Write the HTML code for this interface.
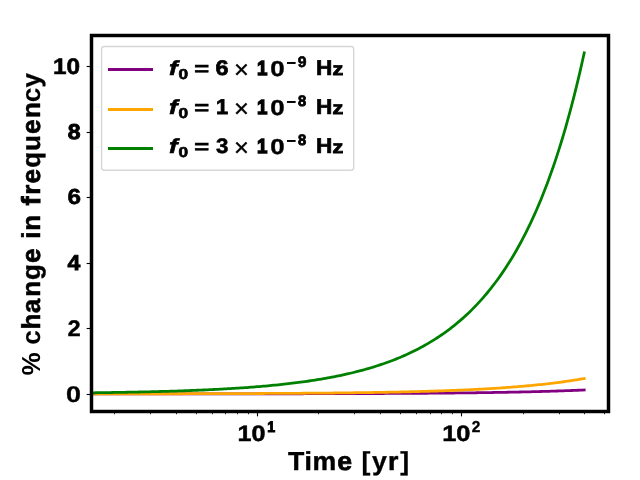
<!DOCTYPE html>
<html lang="en"><head><meta charset="utf-8"><title>% change in frequency vs time</title>
<style>
html,body{margin:0;padding:0;background:#fff;}
svg{display:block;will-change:transform;}
text{font-family:'Liberation Sans',sans-serif;fill:#000;text-rendering:geometricPrecision;}
</style></head>
<body>
<svg width="640" height="480" viewBox="0 0 640 480">
<rect width="640" height="480" fill="#fff"/>
<defs><clipPath id="ax"><rect x="91.5" y="35.5" width="517.0" height="376.0"/></clipPath></defs>
<!-- data curves: purple f0=6e-9, orange f0=1e-8, green f0=3e-8 (log x axis) -->
<g clip-path="url(#ax)">
<path d="M87.50,393.89 L89.57,393.89 L91.64,393.88 L93.71,393.88 L95.78,393.88 L97.85,393.88 L99.92,393.88 L101.99,393.88 L104.06,393.88 L106.13,393.88 L108.20,393.88 L110.27,393.88 L112.34,393.88 L114.41,393.88 L116.48,393.88 L118.55,393.88 L120.61,393.88 L122.68,393.88 L124.75,393.88 L126.82,393.88 L128.89,393.88 L130.96,393.88 L133.03,393.88 L135.10,393.88 L137.17,393.87 L139.24,393.87 L141.31,393.87 L143.38,393.87 L145.45,393.87 L147.52,393.87 L149.59,393.87 L151.66,393.87 L153.73,393.87 L155.80,393.87 L157.87,393.87 L159.94,393.87 L162.01,393.87 L164.08,393.87 L166.15,393.86 L168.22,393.86 L170.29,393.86 L172.36,393.86 L174.43,393.86 L176.50,393.86 L178.57,393.86 L180.64,393.86 L182.70,393.86 L184.77,393.86 L186.84,393.86 L188.91,393.85 L190.98,393.85 L193.05,393.85 L195.12,393.85 L197.19,393.85 L199.26,393.85 L201.33,393.85 L203.40,393.85 L205.47,393.85 L207.54,393.84 L209.61,393.84 L211.68,393.84 L213.75,393.84 L215.82,393.84 L217.89,393.84 L219.96,393.84 L222.03,393.83 L224.10,393.83 L226.17,393.83 L228.24,393.83 L230.31,393.83 L232.38,393.83 L234.45,393.82 L236.52,393.82 L238.59,393.82 L240.66,393.82 L242.73,393.82 L244.79,393.81 L246.86,393.81 L248.93,393.81 L251.00,393.81 L253.07,393.81 L255.14,393.80 L257.21,393.80 L259.28,393.80 L261.35,393.80 L263.42,393.80 L265.49,393.79 L267.56,393.79 L269.63,393.79 L271.70,393.78 L273.77,393.78 L275.84,393.78 L277.91,393.78 L279.98,393.77 L282.05,393.77 L284.12,393.77 L286.19,393.76 L288.26,393.76 L290.33,393.76 L292.40,393.75 L294.47,393.75 L296.54,393.75 L298.61,393.74 L300.68,393.74 L302.75,393.74 L304.82,393.73 L306.88,393.73 L308.95,393.72 L311.02,393.72 L313.09,393.72 L315.16,393.71 L317.23,393.71 L319.30,393.70 L321.37,393.70 L323.44,393.69 L325.51,393.69 L327.58,393.68 L329.65,393.68 L331.72,393.67 L333.79,393.67 L335.86,393.66 L337.93,393.66 L340.00,393.65 L342.07,393.65 L344.14,393.64 L346.21,393.63 L348.28,393.63 L350.35,393.62 L352.42,393.61 L354.49,393.61 L356.56,393.60 L358.63,393.59 L360.70,393.59 L362.77,393.58 L364.84,393.57 L366.91,393.56 L368.98,393.56 L371.04,393.55 L373.11,393.54 L375.18,393.53 L377.25,393.52 L379.32,393.51 L381.39,393.50 L383.46,393.49 L385.53,393.48 L387.60,393.47 L389.67,393.46 L391.74,393.45 L393.81,393.44 L395.88,393.43 L397.95,393.42 L400.02,393.41 L402.09,393.40 L404.16,393.39 L406.23,393.38 L408.30,393.36 L410.37,393.35 L412.44,393.34 L414.51,393.32 L416.58,393.31 L418.65,393.30 L420.72,393.28 L422.79,393.27 L424.86,393.25 L426.93,393.24 L429.00,393.22 L431.07,393.21 L433.13,393.19 L435.20,393.17 L437.27,393.16 L439.34,393.14 L441.41,393.12 L443.48,393.10 L445.55,393.08 L447.62,393.06 L449.69,393.04 L451.76,393.02 L453.83,393.00 L455.90,392.98 L457.97,392.96 L460.04,392.94 L462.11,392.91 L464.18,392.89 L466.25,392.87 L468.32,392.84 L470.39,392.82 L472.46,392.79 L474.53,392.77 L476.60,392.74 L478.67,392.71 L480.74,392.68 L482.81,392.66 L484.88,392.63 L486.95,392.60 L489.02,392.57 L491.09,392.53 L493.16,392.50 L495.22,392.47 L497.29,392.43 L499.36,392.40 L501.43,392.36 L503.50,392.33 L505.57,392.29 L507.64,392.25 L509.71,392.21 L511.78,392.17 L513.85,392.13 L515.92,392.09 L517.99,392.05 L520.06,392.01 L522.13,391.96 L524.20,391.91 L526.27,391.87 L528.34,391.82 L530.41,391.77 L532.48,391.72 L534.55,391.67 L536.62,391.62 L538.69,391.56 L540.76,391.51 L542.83,391.45 L544.90,391.39 L546.97,391.33 L549.04,391.27 L551.11,391.21 L553.18,391.15 L555.25,391.08 L557.32,391.01 L559.38,390.95 L561.45,390.88 L563.52,390.80 L565.59,390.73 L567.66,390.66 L569.73,390.58 L571.80,390.50 L573.87,390.42 L575.94,390.34 L578.01,390.25 L580.08,390.17 L582.15,390.08 L584.22,389.99" fill="none" stroke="#800080" stroke-width="2.78" stroke-linecap="square" stroke-linejoin="round"/>
<path d="M87.50,393.84 L89.57,393.84 L91.64,393.84 L93.71,393.84 L95.78,393.84 L97.85,393.84 L99.92,393.84 L101.99,393.83 L104.06,393.83 L106.13,393.83 L108.20,393.83 L110.27,393.83 L112.34,393.83 L114.41,393.82 L116.48,393.82 L118.55,393.82 L120.61,393.82 L122.68,393.82 L124.75,393.81 L126.82,393.81 L128.89,393.81 L130.96,393.81 L133.03,393.81 L135.10,393.80 L137.17,393.80 L139.24,393.80 L141.31,393.80 L143.38,393.79 L145.45,393.79 L147.52,393.79 L149.59,393.79 L151.66,393.78 L153.73,393.78 L155.80,393.78 L157.87,393.78 L159.94,393.77 L162.01,393.77 L164.08,393.77 L166.15,393.76 L168.22,393.76 L170.29,393.76 L172.36,393.75 L174.43,393.75 L176.50,393.75 L178.57,393.74 L180.64,393.74 L182.70,393.74 L184.77,393.73 L186.84,393.73 L188.91,393.72 L190.98,393.72 L193.05,393.71 L195.12,393.71 L197.19,393.71 L199.26,393.70 L201.33,393.70 L203.40,393.69 L205.47,393.69 L207.54,393.68 L209.61,393.68 L211.68,393.67 L213.75,393.67 L215.82,393.66 L217.89,393.65 L219.96,393.65 L222.03,393.64 L224.10,393.64 L226.17,393.63 L228.24,393.62 L230.31,393.62 L232.38,393.61 L234.45,393.60 L236.52,393.60 L238.59,393.59 L240.66,393.58 L242.73,393.58 L244.79,393.57 L246.86,393.56 L248.93,393.55 L251.00,393.54 L253.07,393.54 L255.14,393.53 L257.21,393.52 L259.28,393.51 L261.35,393.50 L263.42,393.49 L265.49,393.48 L267.56,393.47 L269.63,393.46 L271.70,393.45 L273.77,393.44 L275.84,393.43 L277.91,393.42 L279.98,393.41 L282.05,393.39 L284.12,393.38 L286.19,393.37 L288.26,393.36 L290.33,393.35 L292.40,393.33 L294.47,393.32 L296.54,393.31 L298.61,393.29 L300.68,393.28 L302.75,393.26 L304.82,393.25 L306.88,393.23 L308.95,393.22 L311.02,393.20 L313.09,393.18 L315.16,393.17 L317.23,393.15 L319.30,393.13 L321.37,393.11 L323.44,393.09 L325.51,393.08 L327.58,393.06 L329.65,393.04 L331.72,393.02 L333.79,392.99 L335.86,392.97 L337.93,392.95 L340.00,392.93 L342.07,392.91 L344.14,392.88 L346.21,392.86 L348.28,392.83 L350.35,392.81 L352.42,392.78 L354.49,392.76 L356.56,392.73 L358.63,392.70 L360.70,392.67 L362.77,392.64 L364.84,392.61 L366.91,392.58 L368.98,392.55 L371.04,392.52 L373.11,392.49 L375.18,392.46 L377.25,392.42 L379.32,392.39 L381.39,392.35 L383.46,392.31 L385.53,392.28 L387.60,392.24 L389.67,392.20 L391.74,392.16 L393.81,392.12 L395.88,392.08 L397.95,392.03 L400.02,391.99 L402.09,391.94 L404.16,391.90 L406.23,391.85 L408.30,391.80 L410.37,391.75 L412.44,391.70 L414.51,391.65 L416.58,391.60 L418.65,391.54 L420.72,391.48 L422.79,391.43 L424.86,391.37 L426.93,391.31 L429.00,391.25 L431.07,391.19 L433.13,391.12 L435.20,391.06 L437.27,390.99 L439.34,390.92 L441.41,390.85 L443.48,390.78 L445.55,390.70 L447.62,390.63 L449.69,390.55 L451.76,390.47 L453.83,390.39 L455.90,390.31 L457.97,390.22 L460.04,390.13 L462.11,390.05 L464.18,389.95 L466.25,389.86 L468.32,389.77 L470.39,389.67 L472.46,389.57 L474.53,389.47 L476.60,389.36 L478.67,389.25 L480.74,389.14 L482.81,389.03 L484.88,388.91 L486.95,388.80 L489.02,388.68 L491.09,388.55 L493.16,388.43 L495.22,388.30 L497.29,388.16 L499.36,388.03 L501.43,387.89 L503.50,387.75 L505.57,387.60 L507.64,387.45 L509.71,387.30 L511.78,387.14 L513.85,386.98 L515.92,386.82 L517.99,386.65 L520.06,386.48 L522.13,386.30 L524.20,386.12 L526.27,385.94 L528.34,385.75 L530.41,385.56 L532.48,385.36 L534.55,385.15 L536.62,384.95 L538.69,384.73 L540.76,384.52 L542.83,384.29 L544.90,384.07 L546.97,383.83 L549.04,383.59 L551.11,383.35 L553.18,383.10 L555.25,382.84 L557.32,382.58 L559.38,382.31 L561.45,382.04 L563.52,381.75 L565.59,381.46 L567.66,381.17 L569.73,380.87 L571.80,380.56 L573.87,380.24 L575.94,379.91 L578.01,379.58 L580.08,379.24 L582.15,378.89 L584.22,378.53" fill="none" stroke="#ffa500" stroke-width="2.78" stroke-linecap="square" stroke-linejoin="round"/>
<path d="M87.50,392.84 L89.57,392.82 L91.64,392.79 L93.71,392.77 L95.78,392.74 L97.85,392.71 L99.92,392.69 L101.99,392.66 L104.06,392.63 L106.13,392.60 L108.20,392.57 L110.27,392.54 L112.34,392.50 L114.41,392.47 L116.48,392.44 L118.55,392.40 L120.61,392.37 L122.68,392.33 L124.75,392.29 L126.82,392.25 L128.89,392.22 L130.96,392.18 L133.03,392.14 L135.10,392.09 L137.17,392.05 L139.24,392.01 L141.31,391.96 L143.38,391.92 L145.45,391.87 L147.52,391.82 L149.59,391.77 L151.66,391.72 L153.73,391.67 L155.80,391.62 L157.87,391.56 L159.94,391.51 L162.01,391.45 L164.08,391.40 L166.15,391.34 L168.22,391.28 L170.29,391.21 L172.36,391.15 L174.43,391.08 L176.50,391.02 L178.57,390.95 L180.64,390.88 L182.70,390.81 L184.77,390.74 L186.84,390.66 L188.91,390.58 L190.98,390.51 L193.05,390.43 L195.12,390.34 L197.19,390.26 L199.26,390.17 L201.33,390.09 L203.40,389.99 L205.47,389.90 L207.54,389.81 L209.61,389.71 L211.68,389.61 L213.75,389.51 L215.82,389.41 L217.89,389.30 L219.96,389.19 L222.03,389.08 L224.10,388.97 L226.17,388.85 L228.24,388.73 L230.31,388.61 L232.38,388.48 L234.45,388.35 L236.52,388.22 L238.59,388.09 L240.66,387.95 L242.73,387.81 L244.79,387.66 L246.86,387.52 L248.93,387.37 L251.00,387.21 L253.07,387.05 L255.14,386.89 L257.21,386.72 L259.28,386.55 L261.35,386.38 L263.42,386.20 L265.49,386.02 L267.56,385.83 L269.63,385.64 L271.70,385.44 L273.77,385.24 L275.84,385.04 L277.91,384.83 L279.98,384.61 L282.05,384.39 L284.12,384.17 L286.19,383.94 L288.26,383.70 L290.33,383.46 L292.40,383.21 L294.47,382.96 L296.54,382.70 L298.61,382.43 L300.68,382.16 L302.75,381.88 L304.82,381.59 L306.88,381.30 L308.95,381.00 L311.02,380.69 L313.09,380.38 L315.16,380.06 L317.23,379.73 L319.30,379.39 L321.37,379.04 L323.44,378.69 L325.51,378.33 L327.58,377.96 L329.65,377.58 L331.72,377.19 L333.79,376.79 L335.86,376.38 L337.93,375.97 L340.00,375.54 L342.07,375.10 L344.14,374.65 L346.21,374.19 L348.28,373.72 L350.35,373.24 L352.42,372.75 L354.49,372.24 L356.56,371.72 L358.63,371.19 L360.70,370.65 L362.77,370.09 L364.84,369.52 L366.91,368.94 L368.98,368.34 L371.04,367.73 L373.11,367.10 L375.18,366.46 L377.25,365.80 L379.32,365.13 L381.39,364.44 L383.46,363.73 L385.53,363.01 L387.60,362.26 L389.67,361.50 L391.74,360.73 L393.81,359.93 L395.88,359.11 L397.95,358.27 L400.02,357.41 L402.09,356.53 L404.16,355.63 L406.23,354.71 L408.30,353.76 L410.37,352.79 L412.44,351.80 L414.51,350.78 L416.58,349.74 L418.65,348.67 L420.72,347.58 L422.79,346.45 L424.86,345.30 L426.93,344.12 L429.00,342.91 L431.07,341.67 L433.13,340.40 L435.20,339.10 L437.27,337.77 L439.34,336.40 L441.41,335.00 L443.48,333.56 L445.55,332.09 L447.62,330.57 L449.69,329.02 L451.76,327.44 L453.83,325.81 L455.90,324.14 L457.97,322.42 L460.04,320.66 L462.11,318.86 L464.18,317.01 L466.25,315.12 L468.32,313.17 L470.39,311.18 L472.46,309.13 L474.53,307.03 L476.60,304.88 L478.67,302.67 L480.74,300.40 L482.81,298.07 L484.88,295.68 L486.95,293.23 L489.02,290.72 L491.09,288.13 L493.16,285.48 L495.22,282.76 L497.29,279.97 L499.36,277.10 L501.43,274.15 L503.50,271.13 L505.57,268.02 L507.64,264.83 L509.71,261.55 L511.78,258.19 L513.85,254.73 L515.92,251.18 L517.99,247.52 L520.06,243.77 L522.13,239.91 L524.20,235.95 L526.27,231.87 L528.34,227.68 L530.41,223.38 L532.48,218.94 L534.55,214.39 L536.62,209.70 L538.69,204.88 L540.76,199.92 L542.83,194.81 L544.90,189.55 L546.97,184.15 L549.04,178.58 L551.11,172.84 L553.18,166.94 L555.25,160.85 L557.32,154.59 L559.38,148.13 L561.45,141.47 L563.52,134.61 L565.59,127.54 L567.66,120.24 L569.73,112.72 L571.80,104.96 L573.87,96.95 L575.94,88.68 L578.01,80.14 L580.08,71.33 L582.15,62.22 L584.22,52.81" fill="none" stroke="#008000" stroke-width="2.78" stroke-linecap="square" stroke-linejoin="round"/>
</g>
<!-- tick marks -->
<g>
<path d="M91.5 66.5H86.64" stroke="#000" stroke-width="1.11"/>
<path d="M91.5 132.5H86.64" stroke="#000" stroke-width="1.11"/>
<path d="M91.5 197.5H86.64" stroke="#000" stroke-width="1.11"/>
<path d="M91.5 263.5H86.64" stroke="#000" stroke-width="1.11"/>
<path d="M91.5 328.5H86.64" stroke="#000" stroke-width="1.11"/>
<path d="M91.5 394.5H86.64" stroke="#000" stroke-width="1.11"/>
<path d="M257.5 411.5V416.36" stroke="#000" stroke-width="1.11"/>
<path d="M461.5 411.5V416.36" stroke="#000" stroke-width="1.11"/>
<path d="M114.5 411.5V414.28" stroke="#000" stroke-width="0.83"/>
<path d="M150.5 411.5V414.28" stroke="#000" stroke-width="0.83"/>
<path d="M176.5 411.5V414.28" stroke="#000" stroke-width="0.83"/>
<path d="M196.5 411.5V414.28" stroke="#000" stroke-width="0.83"/>
<path d="M212.5 411.5V414.28" stroke="#000" stroke-width="0.83"/>
<path d="M225.5 411.5V414.28" stroke="#000" stroke-width="0.83"/>
<path d="M237.5 411.5V414.28" stroke="#000" stroke-width="0.83"/>
<path d="M248.5 411.5V414.28" stroke="#000" stroke-width="0.83"/>
<path d="M318.5 411.5V414.28" stroke="#000" stroke-width="0.83"/>
<path d="M354.5 411.5V414.28" stroke="#000" stroke-width="0.83"/>
<path d="M380.5 411.5V414.28" stroke="#000" stroke-width="0.83"/>
<path d="M400.5 411.5V414.28" stroke="#000" stroke-width="0.83"/>
<path d="M416.5 411.5V414.28" stroke="#000" stroke-width="0.83"/>
<path d="M430.5 411.5V414.28" stroke="#000" stroke-width="0.83"/>
<path d="M441.5 411.5V414.28" stroke="#000" stroke-width="0.83"/>
<path d="M452.5 411.5V414.28" stroke="#000" stroke-width="0.83"/>
<path d="M523.5 411.5V414.28" stroke="#000" stroke-width="0.83"/>
<path d="M559.5 411.5V414.28" stroke="#000" stroke-width="0.83"/>
<path d="M584.5 411.5V414.28" stroke="#000" stroke-width="0.83"/>
<path d="M604.5 411.5V414.28" stroke="#000" stroke-width="0.83"/>
</g>
<!-- axes frame -->
<rect x="91.5" y="35.5" width="517.0" height="376.0" fill="none" stroke="#000" stroke-width="3.47" stroke-linejoin="miter"/>
<!-- legend -->
<g>
<rect x="101.6" y="46.5" width="252.1" height="123.7" rx="2.8" ry="2.8" fill="#fff" fill-opacity="0.8" stroke="#ccc" stroke-opacity="0.8" stroke-width="1.39"/>
<path d="M108 69.5H153" stroke="#800080" stroke-width="2.78"/>
<path d="M108 109.5H153" stroke="#ffa500" stroke-width="2.78"/>
<path d="M108 148.5H153" stroke="#008000" stroke-width="2.78"/>
<g>
<text transform="matrix(1.3290 0 0 1.0414 169.035 75.140)" style="font-size:19.4px;font-weight:bold;font-style:italic;stroke:#000;stroke-width:0.58px;">f</text>
<text transform="matrix(1.2714 0 0 1.0537 178.482 78.773)" style="font-size:13.6px;font-weight:bold;stroke:#000;stroke-width:0.64px;">0</text>
<text transform="matrix(1.3171 0 0 0.9935 194.241 75.184)" style="font-size:19.4px;font-weight:bold;stroke:#000;stroke-width:0.60px;">=</text>
<text transform="matrix(1.2100 0 0 1.0842 215.395 75.208)" style="font-size:19.4px;font-weight:bold;stroke:#000;stroke-width:0.63px;">6</text>
<text transform="matrix(1.3111 0 0 1.3000 234.061 77.700)" style="font-size:19.4px;font-weight:normal;stroke:#000;stroke-width:0.30px;">&#215;</text>
<text transform="matrix(0.9659 0 0 1.0483 257.117 74.976)" style="font-size:19.4px;font-weight:bold;stroke:#000;stroke-width:1.25px;">1</text>
<text transform="matrix(1.3333 0 0 1.1143 270.133 75.521)" style="font-size:19.4px;font-weight:bold;stroke:#000;stroke-width:0.35px;">0</text>
<text transform="matrix(1.2714 0 0 1.3333 286.264 68.700)" style="font-size:13.6px;font-weight:bold;stroke:#000;stroke-width:0.00px;">&#8722;</text>
<text transform="matrix(1.1571 0 0 1.1122 297.811 67.244)" style="font-size:13.6px;font-weight:bold;stroke:#000;stroke-width:0.58px;">9</text>
<text transform="matrix(1.1667 0 0 1.0982 315.933 75.225)" style="font-size:19.4px;font-weight:bold;stroke:#000;stroke-width:0.61px;">H</text>
<text transform="matrix(1.1135 0 0 0.9333 332.522 75.033)" style="font-size:19.4px;font-weight:bold;stroke:#000;stroke-width:0.85px;">z</text>
</g>
<g>
<text transform="matrix(1.3290 0 0 1.0414 169.035 114.140)" style="font-size:19.4px;font-weight:bold;font-style:italic;stroke:#000;stroke-width:0.58px;">f</text>
<text transform="matrix(1.2714 0 0 1.0537 178.482 117.773)" style="font-size:13.6px;font-weight:bold;stroke:#000;stroke-width:0.64px;">0</text>
<text transform="matrix(1.3171 0 0 0.9935 194.241 114.184)" style="font-size:19.4px;font-weight:bold;stroke:#000;stroke-width:0.60px;">=</text>
<text transform="matrix(1.1263 0 0 1.1036 215.974 114.474)" style="font-size:19.4px;font-weight:bold;stroke:#000;stroke-width:0.69px;">1</text>
<text transform="matrix(1.3111 0 0 1.3000 234.061 116.700)" style="font-size:19.4px;font-weight:normal;stroke:#000;stroke-width:0.30px;">&#215;</text>
<text transform="matrix(0.9659 0 0 1.0483 257.117 113.976)" style="font-size:19.4px;font-weight:bold;stroke:#000;stroke-width:1.25px;">1</text>
<text transform="matrix(1.3333 0 0 1.1143 270.133 114.521)" style="font-size:19.4px;font-weight:bold;stroke:#000;stroke-width:0.35px;">0</text>
<text transform="matrix(1.2714 0 0 1.3333 286.264 107.700)" style="font-size:13.6px;font-weight:bold;stroke:#000;stroke-width:0.00px;">&#8722;</text>
<text transform="matrix(1.0800 0 0 1.1122 298.100 106.244)" style="font-size:13.6px;font-weight:bold;stroke:#000;stroke-width:0.76px;">8</text>
<text transform="matrix(1.1667 0 0 1.0982 315.933 114.225)" style="font-size:19.4px;font-weight:bold;stroke:#000;stroke-width:0.61px;">H</text>
<text transform="matrix(1.1135 0 0 0.9333 332.522 114.033)" style="font-size:19.4px;font-weight:bold;stroke:#000;stroke-width:0.85px;">z</text>
</g>
<g>
<text transform="matrix(1.3290 0 0 1.0414 169.035 153.140)" style="font-size:19.4px;font-weight:bold;font-style:italic;stroke:#000;stroke-width:0.58px;">f</text>
<text transform="matrix(1.2714 0 0 1.0537 178.482 156.773)" style="font-size:13.6px;font-weight:bold;stroke:#000;stroke-width:0.64px;">0</text>
<text transform="matrix(1.3171 0 0 0.9935 194.241 153.184)" style="font-size:19.4px;font-weight:bold;stroke:#000;stroke-width:0.60px;">=</text>
<text transform="matrix(1.1500 0 0 1.0842 216.012 153.208)" style="font-size:19.4px;font-weight:bold;stroke:#000;stroke-width:0.52px;">3</text>
<text transform="matrix(1.3111 0 0 1.3000 234.061 155.700)" style="font-size:19.4px;font-weight:normal;stroke:#000;stroke-width:0.30px;">&#215;</text>
<text transform="matrix(0.9659 0 0 1.0483 257.117 152.976)" style="font-size:19.4px;font-weight:bold;stroke:#000;stroke-width:1.25px;">1</text>
<text transform="matrix(1.3333 0 0 1.1143 270.133 153.521)" style="font-size:19.4px;font-weight:bold;stroke:#000;stroke-width:0.35px;">0</text>
<text transform="matrix(1.2714 0 0 1.3333 286.264 146.700)" style="font-size:13.6px;font-weight:bold;stroke:#000;stroke-width:0.00px;">&#8722;</text>
<text transform="matrix(1.0800 0 0 1.1122 298.100 145.244)" style="font-size:13.6px;font-weight:bold;stroke:#000;stroke-width:0.76px;">8</text>
<text transform="matrix(1.1667 0 0 1.0982 315.933 153.225)" style="font-size:19.4px;font-weight:bold;stroke:#000;stroke-width:0.61px;">H</text>
<text transform="matrix(1.1135 0 0 0.9333 332.522 153.033)" style="font-size:19.4px;font-weight:bold;stroke:#000;stroke-width:0.85px;">z</text>
</g>
</g>
<!-- y tick labels -->
<g>
<text transform="matrix(1.1055 0 0 1.0156 52.895 73.642)" style="font-size:22px;font-weight:bold;stroke:#000;stroke-width:0.58px;">10</text>
<text transform="matrix(1.0468 0 0 0.9727 67.838 139.170)" style="font-size:22px;font-weight:bold;stroke:#000;stroke-width:0.91px;">8</text>
<text transform="matrix(1.1022 0 0 0.9877 67.549 204.406)" style="font-size:22px;font-weight:bold;stroke:#000;stroke-width:0.64px;">6</text>
<text transform="matrix(1.0440 0 0 0.9750 67.600 270.212)" style="font-size:22px;font-weight:bold;stroke:#000;stroke-width:0.83px;">4</text>
<text transform="matrix(1.0818 0 0 1.0258 67.559 335.800)" style="font-size:22px;font-weight:bold;stroke:#000;stroke-width:0.29px;">2</text>
<text transform="matrix(1.2233 0 0 1.0317 65.933 401.892)" style="font-size:22px;font-weight:bold;stroke:#000;stroke-width:0.26px;">0</text>
</g>
<!-- x tick labels -->
<g>
<text transform="matrix(1.1422 0 0 1.0125 237.572 440.594)" style="font-size:22px;font-weight:bold;stroke:#000;stroke-width:0.48px;">10</text>
<text transform="matrix(0.9250 0 0 0.9870 267.138 432.207)" style="font-size:15.4px;font-weight:bold;stroke:#000;stroke-width:0.96px;">1</text>
<text transform="matrix(1.1556 0 0 1.0125 442.156 440.594)" style="font-size:22px;font-weight:bold;stroke:#000;stroke-width:0.48px;">10</text>
<text transform="matrix(1.0000 0 0 1.0222 471.750 432.444)" style="font-size:15.4px;font-weight:bold;stroke:#000;stroke-width:0.38px;">2</text>
</g>
<!-- axis labels -->
<text transform="matrix(1.0669 0 0 1.0400 0 470.00)" x="269.84 285.37 293.03 316.11 330.69 338.94 348.67 363.79 375.09" y="0" style="font-size:25.0px;font-weight:bold;stroke:#000;stroke-width:0.45px;"><tspan style="stroke-width:0.39px">T</tspan><tspan style="stroke-width:0.50px">i</tspan><tspan style="stroke-width:0.41px">m</tspan><tspan style="stroke-width:0.70px">e </tspan><tspan style="stroke-width:0.22px">[</tspan><tspan style="stroke-width:0.29px">y</tspan><tspan style="stroke-width:0.51px">r</tspan><tspan style="stroke-width:0.28px">]</tspan></text>
<g transform="rotate(-90)">
<text transform="matrix(1.0433 0 0 1.0400 0 40.00)" x="-360.00 -337.57 -330.33 -315.89 -300.33 -284.46 -268.44 -251.99 -237.24 -228.94 -221.16 -205.49 -196.78 -186.77 -176.01 -160.91 -144.66 -128.35 -113.16 -98.13 -83.75" y="0" style="font-size:25.0px;font-weight:bold;stroke:#000;stroke-width:0.45px;"><tspan style="stroke-width:0.00px">% </tspan><tspan style="stroke-width:0.07px">c</tspan><tspan style="stroke-width:0.53px">h</tspan><tspan style="stroke-width:0.49px">a</tspan><tspan style="stroke-width:0.48px">n</tspan><tspan style="stroke-width:0.41px">g</tspan><tspan style="stroke-width:0.75px">e </tspan><tspan style="stroke-width:0.47px">i</tspan><tspan style="stroke-width:0.48px">n </tspan><tspan style="stroke-width:1.10px">f</tspan><tspan style="stroke-width:0.55px">r</tspan><tspan style="stroke-width:0.74px">e</tspan><tspan style="stroke-width:0.40px">q</tspan><tspan style="stroke-width:0.36px">u</tspan><tspan style="stroke-width:0.75px">e</tspan><tspan style="stroke-width:0.38px">n</tspan><tspan style="stroke-width:0.05px">c</tspan><tspan style="stroke-width:0.29px">y</tspan></text>
</g>
</svg>
</body></html>
